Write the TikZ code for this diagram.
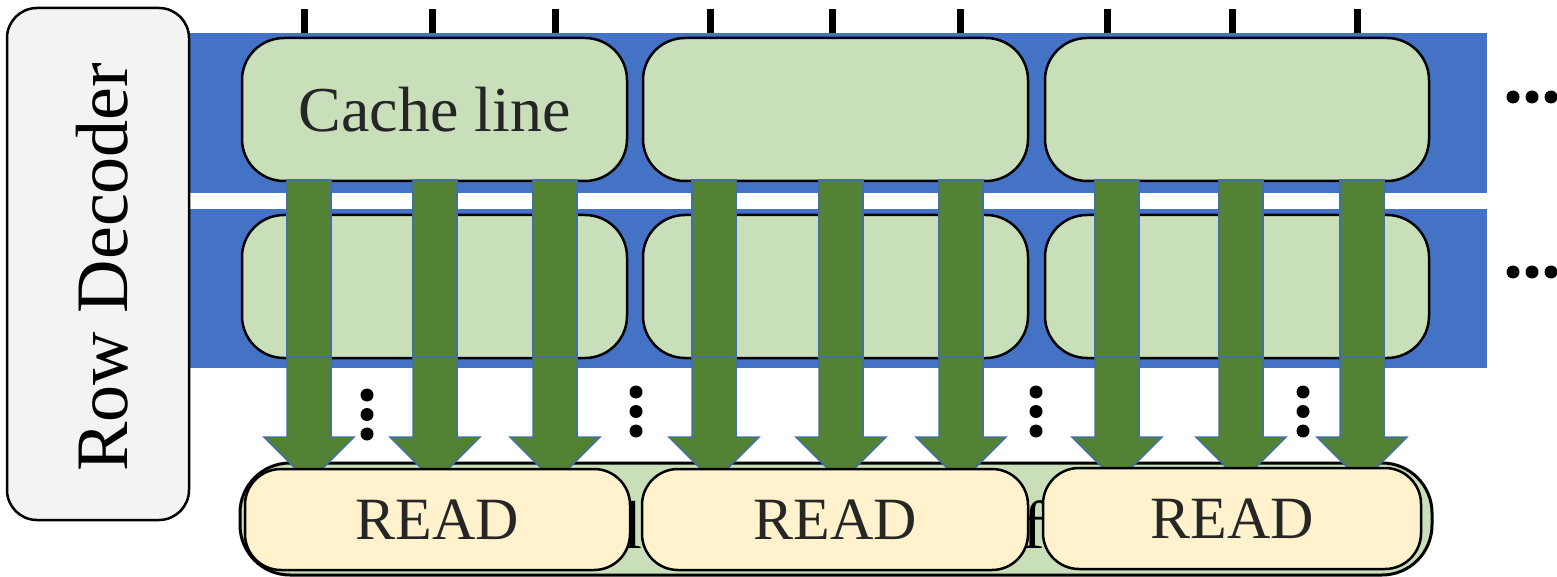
\documentclass[tikz,border=0pt]{standalone}
\usepackage{fontspec}
\setmainfont{Liberation Serif}
\definecolor{bandblue}{HTML}{4472C4}
\definecolor{cellgreen}{HTML}{C8DFBA}
\definecolor{arrowgreen}{HTML}{548235}
\definecolor{arrowedge}{HTML}{41719C}
\definecolor{readfill}{HTML}{FFF2CC}
\definecolor{decfill}{HTML}{F3F3F3}
\definecolor{txt}{HTML}{262626}
\tikzset{
  band/.style={fill=bandblue},
  tick/.style={line width=7pt, black},
  cell/.style={draw=black, line width=2.5pt, fill=cellgreen, rounded corners=42pt,
    minimum width=385pt, minimum height=143pt, inner sep=0pt, text=txt,
    font=\fontsize{64}{70}\selectfont},
  decoder/.style={draw=black, line width=2.5pt, fill=decfill, rounded corners=30pt,
    minimum width=182pt, minimum height=512pt, inner sep=0pt},
  bufferbox/.style={draw=black, line width=3pt, fill=cellgreen, rounded corners=50pt,
    minimum width=1192pt, minimum height=112pt, inner sep=0pt},
  readbox/.style={draw=black, line width=2.5pt, fill=readfill, rounded corners=36pt,
    minimum height=101pt, inner sep=0pt, text=txt, font=\fontsize{60}{66}\selectfont},
  flow/.style={fill=arrowgreen, draw=arrowedge, line width=1.5pt, line join=miter},
  vdot/.style={fill=black},
}
\begin{document}
\begin{tikzpicture}[x=1pt, y=-1pt]
\useasboundingbox (0,0) rectangle (1557,577);

% word-line bands of the two rows
\fill[band] (188,33) rectangle (1487,193);
\fill[band] (188,209) rectangle (1487,368);

% bit-line ticks above the first row
\foreach \tx in {304,432,555,710,832,960,1107,1232,1357}
  \draw[tick] (\tx,9) -- (\tx,33);

% row decoder
\node[decoder] (dec) at (98,264) {};
\node[rotate=90, font=\fontsize{74}{80}\selectfont, text=black] (dectext) at (102,267) {Row Decoder};

% cache lines, two rows
\node[cell] (c11) at (434.5,109.5) {Cache line};
\node[cell] (c12) at (835.5,109.5) {};
\node[cell, minimum width=384pt] (c13) at (1237,109.5) {};
\node[cell] (c21) at (434.5,286.5) {};
\node[cell] (c22) at (835.5,286.5) {};
\node[cell, minimum width=384pt] (c23) at (1237,286.5) {};

% row buffer
\node[bufferbox] (buf) at (836,519) {};
\node[text=black, font=\fontsize{68}{72}\selectfont, anchor=base] (buftext) at (836,548) {Global Row Buffer};

% data moved down the bit lines
\foreach \cx in {309,435,555,714,841,961,1117,1241,1362} {
  \draw[flow] (\cx-22,180) rectangle (\cx+22,357);
  \draw[flow] (\cx-22,357) -- (\cx-22,437) -- (\cx-45,437) -- (\cx,482)
    -- (\cx+45,437) -- (\cx+22,437) -- (\cx+22,357) -- cycle;
}

% read ports
\node[readbox, minimum width=385pt] (r1) at (437.5,519.5) {READ};
\node[readbox, minimum width=386pt] (r2) at (835,519.5) {READ};
\node[readbox, minimum width=378pt] (r3) at (1232,518.5) {READ};

% more columns to the right
\foreach \dx in {1513,1532,1551} {
  \fill[vdot] (\dx,97) circle (6.5);
  \fill[vdot] (\dx,272) circle (6.5);
}

% more rows below
\foreach \vx/\vy in {367/395,636/392,1036/392,1303/392} {
  \fill[vdot] (\vx,\vy) circle (6.5);
  \fill[vdot] (\vx,\vy+19.5) circle (6.5);
  \fill[vdot] (\vx,\vy+39) circle (6.5);
}
\end{tikzpicture}
\end{document}
